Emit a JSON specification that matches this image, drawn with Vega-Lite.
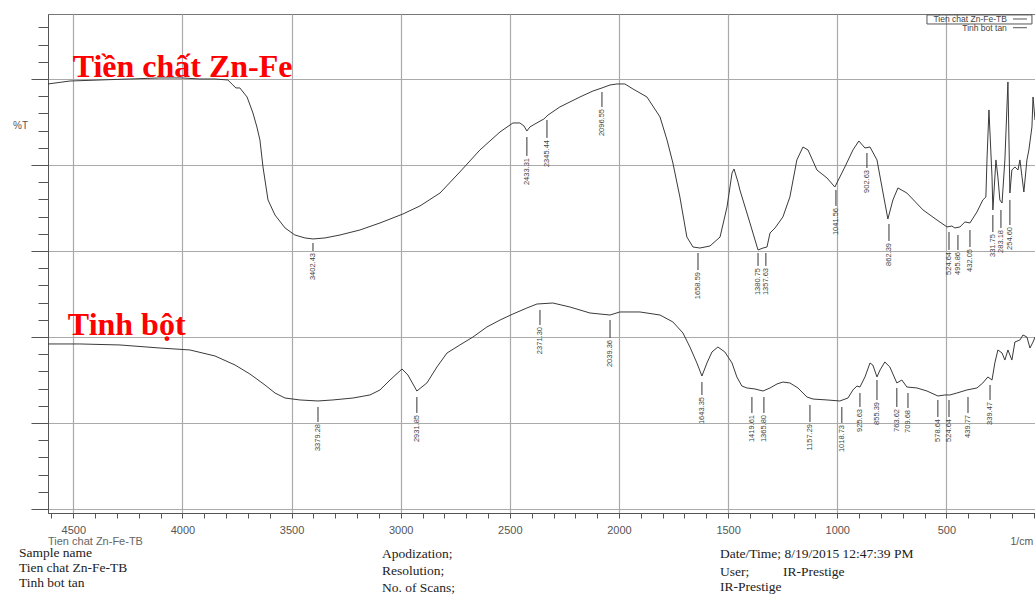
{
  "$schema": "https://vega.github.io/schema/vega-lite/v6.json",
  "width": 987,
  "height": 499,
  "autosize": {"type": "none"},
  "padding": {"left": 48, "top": 14, "right": 0, "bottom": 83},
  "background": "white",
  "config": {"view": {"stroke": "#777", "strokeWidth": 1}, "font": "Liberation Sans"},
  "datasets": {
    "spec": [
      {"s":"Zn","wn":4616,"t":49.41},{"s":"Zn","wn":4515,"t":49.76},{"s":"Zn","wn":4378,"t":49.88},{"s":"Zn","wn":4241,"t":50.0},{"s":"Zn","wn":4103,"t":50.12},{"s":"Zn","wn":4002,"t":50.12},{"s":"Zn","wn":3920,"t":50.0},{"s":"Zn","wn":3851,"t":50.0},{"s":"Zn","wn":3792,"t":49.88},{"s":"Zn","wn":3769,"t":49.29},{"s":"Zn","wn":3755,"t":48.94},{"s":"Zn","wn":3737,"t":48.94},{"s":"Zn","wn":3704,"t":47.87},{"s":"Zn","wn":3677,"t":45.98},{"s":"Zn","wn":3659,"t":44.33},{"s":"Zn","wn":3645,"t":42.79},{"s":"Zn","wn":3631,"t":39.6},{"s":"Zn","wn":3608,"t":35.7},{"s":"Zn","wn":3576,"t":33.92},{"s":"Zn","wn":3530,"t":32.39},{"s":"Zn","wn":3485,"t":31.56},{"s":"Zn","wn":3439,"t":31.21},{"s":"Zn","wn":3402,"t":31.09},{"s":"Zn","wn":3347,"t":31.21},{"s":"Zn","wn":3278,"t":31.56},{"s":"Zn","wn":3187,"t":32.15},{"s":"Zn","wn":3095,"t":32.98},{"s":"Zn","wn":2990,"t":34.04},{"s":"Zn","wn":2912,"t":34.99},{"s":"Zn","wn":2820,"t":36.52},{"s":"Zn","wn":2729,"t":39.01},{"s":"Zn","wn":2637,"t":41.61},{"s":"Zn","wn":2545,"t":43.74},{"s":"Zn","wn":2486,"t":44.8},{"s":"Zn","wn":2454,"t":44.8},{"s":"Zn","wn":2435,"t":44.44},{"s":"Zn","wn":2422,"t":43.85},{"s":"Zn","wn":2408,"t":44.33},{"s":"Zn","wn":2385,"t":44.68},{"s":"Zn","wn":2344,"t":45.27},{"s":"Zn","wn":2325,"t":45.74},{"s":"Zn","wn":2271,"t":46.69},{"s":"Zn","wn":2179,"t":47.87},{"s":"Zn","wn":2119,"t":48.58},{"s":"Zn","wn":2078,"t":48.94},{"s":"Zn","wn":2041,"t":49.29},{"s":"Zn","wn":2009,"t":49.41},{"s":"Zn","wn":1973,"t":49.41},{"s":"Zn","wn":1936,"t":48.82},{"s":"Zn","wn":1872,"t":47.87},{"s":"Zn","wn":1812,"t":45.51},{"s":"Zn","wn":1780,"t":42.79},{"s":"Zn","wn":1753,"t":40.07},{"s":"Zn","wn":1721,"t":36.05},{"s":"Zn","wn":1689,"t":31.32},{"s":"Zn","wn":1661,"t":30.14},{"s":"Zn","wn":1629,"t":30.02},{"s":"Zn","wn":1583,"t":30.26},{"s":"Zn","wn":1537,"t":31.32},{"s":"Zn","wn":1505,"t":34.87},{"s":"Zn","wn":1482,"t":38.89},{"s":"Zn","wn":1473,"t":39.36},{"s":"Zn","wn":1455,"t":37.83},{"s":"Zn","wn":1446,"t":36.88},{"s":"Zn","wn":1400,"t":32.98},{"s":"Zn","wn":1363,"t":29.79},{"s":"Zn","wn":1340,"t":30.02},{"s":"Zn","wn":1322,"t":30.14},{"s":"Zn","wn":1308,"t":31.8},{"s":"Zn","wn":1285,"t":32.39},{"s":"Zn","wn":1249,"t":33.69},{"s":"Zn","wn":1217,"t":36.05},{"s":"Zn","wn":1185,"t":40.43},{"s":"Zn","wn":1157,"t":41.96},{"s":"Zn","wn":1134,"t":41.61},{"s":"Zn","wn":1093,"t":39.24},{"s":"Zn","wn":1047,"t":38.3},{"s":"Zn","wn":1011,"t":37.23},{"s":"Zn","wn":965,"t":39.6},{"s":"Zn","wn":928,"t":41.61},{"s":"Zn","wn":901,"t":42.67},{"s":"Zn","wn":873,"t":41.84},{"s":"Zn","wn":850,"t":41.96},{"s":"Zn","wn":818,"t":40.43},{"s":"Zn","wn":791,"t":36.64},{"s":"Zn","wn":768,"t":33.45},{"s":"Zn","wn":745,"t":35.7},{"s":"Zn","wn":722,"t":37.12},{"s":"Zn","wn":681,"t":36.52},{"s":"Zn","wn":607,"t":34.52},{"s":"Zn","wn":543,"t":33.33},{"s":"Zn","wn":497,"t":32.51},{"s":"Zn","wn":475,"t":32.62},{"s":"Zn","wn":461,"t":32.39},{"s":"Zn","wn":438,"t":32.51},{"s":"Zn","wn":415,"t":33.1},{"s":"Zn","wn":392,"t":32.98},{"s":"Zn","wn":360,"t":34.28},{"s":"Zn","wn":333,"t":35.7},{"s":"Zn","wn":319,"t":36.05},{"s":"Zn","wn":314,"t":40.43},{"s":"Zn","wn":305,"t":46.34},{"s":"Zn","wn":291,"t":38.42},{"s":"Zn","wn":287,"t":34.52},{"s":"Zn","wn":273,"t":40.43},{"s":"Zn","wn":264,"t":38.42},{"s":"Zn","wn":255,"t":35.7},{"s":"Zn","wn":245,"t":35.34},{"s":"Zn","wn":232,"t":40.43},{"s":"Zn","wn":218,"t":49.65},{"s":"Zn","wn":209,"t":36.52},{"s":"Zn","wn":200,"t":39.24},{"s":"Zn","wn":186,"t":39.6},{"s":"Zn","wn":172,"t":39.24},{"s":"Zn","wn":163,"t":40.43},{"s":"Zn","wn":145,"t":36.64},{"s":"Zn","wn":131,"t":40.43},{"s":"Zn","wn":122,"t":41.61},{"s":"Zn","wn":108,"t":44.33},{"s":"Zn","wn":103,"t":47.87},{"s":"Zn","wn":94,"t":45.15},
      {"s":"TB","wn":4616,"t":18.68},{"s":"TB","wn":4470,"t":18.68},{"s":"TB","wn":4286,"t":18.56},{"s":"TB","wn":4103,"t":18.2},{"s":"TB","wn":3966,"t":17.97},{"s":"TB","wn":3851,"t":17.26},{"s":"TB","wn":3759,"t":16.19},{"s":"TB","wn":3691,"t":15.13},{"s":"TB","wn":3622,"t":13.83},{"s":"TB","wn":3576,"t":12.88},{"s":"TB","wn":3530,"t":12.29},{"s":"TB","wn":3462,"t":12.06},{"s":"TB","wn":3379,"t":11.94},{"s":"TB","wn":3311,"t":12.06},{"s":"TB","wn":3219,"t":12.29},{"s":"TB","wn":3141,"t":12.65},{"s":"TB","wn":3095,"t":13.24},{"s":"TB","wn":3049,"t":14.42},{"s":"TB","wn":2994,"t":15.72},{"s":"TB","wn":2967,"t":15.01},{"s":"TB","wn":2926,"t":13.12},{"s":"TB","wn":2880,"t":14.07},{"s":"TB","wn":2834,"t":15.96},{"s":"TB","wn":2788,"t":17.61},{"s":"TB","wn":2729,"t":18.56},{"s":"TB","wn":2669,"t":19.5},{"s":"TB","wn":2605,"t":20.69},{"s":"TB","wn":2545,"t":21.51},{"s":"TB","wn":2486,"t":22.22},{"s":"TB","wn":2422,"t":22.93},{"s":"TB","wn":2376,"t":23.4},{"s":"TB","wn":2303,"t":23.52},{"s":"TB","wn":2225,"t":23.05},{"s":"TB","wn":2133,"t":22.34},{"s":"TB","wn":2041,"t":22.1},{"s":"TB","wn":1996,"t":22.46},{"s":"TB","wn":1904,"t":22.46},{"s":"TB","wn":1812,"t":22.1},{"s":"TB","wn":1753,"t":21.28},{"s":"TB","wn":1707,"t":19.98},{"s":"TB","wn":1675,"t":18.32},{"s":"TB","wn":1643,"t":16.43},{"s":"TB","wn":1620,"t":14.89},{"s":"TB","wn":1597,"t":16.43},{"s":"TB","wn":1574,"t":17.73},{"s":"TB","wn":1547,"t":18.32},{"s":"TB","wn":1515,"t":17.73},{"s":"TB","wn":1482,"t":16.43},{"s":"TB","wn":1460,"t":14.78},{"s":"TB","wn":1437,"t":13.71},{"s":"TB","wn":1414,"t":13.48},{"s":"TB","wn":1377,"t":13.36},{"s":"TB","wn":1340,"t":13.12},{"s":"TB","wn":1308,"t":13.48},{"s":"TB","wn":1276,"t":13.95},{"s":"TB","wn":1249,"t":14.18},{"s":"TB","wn":1217,"t":14.07},{"s":"TB","wn":1180,"t":13.48},{"s":"TB","wn":1139,"t":12.41},{"s":"TB","wn":1111,"t":12.17},{"s":"TB","wn":1047,"t":12.06},{"s":"TB","wn":988,"t":11.94},{"s":"TB","wn":951,"t":12.29},{"s":"TB","wn":928,"t":13.24},{"s":"TB","wn":910,"t":13.71},{"s":"TB","wn":896,"t":13.59},{"s":"TB","wn":873,"t":14.78},{"s":"TB","wn":850,"t":16.43},{"s":"TB","wn":837,"t":16.19},{"s":"TB","wn":818,"t":14.78},{"s":"TB","wn":804,"t":15.6},{"s":"TB","wn":782,"t":16.55},{"s":"TB","wn":759,"t":15.96},{"s":"TB","wn":727,"t":14.07},{"s":"TB","wn":704,"t":14.42},{"s":"TB","wn":681,"t":13.59},{"s":"TB","wn":635,"t":13.48},{"s":"TB","wn":589,"t":13.12},{"s":"TB","wn":539,"t":12.53},{"s":"TB","wn":507,"t":12.65},{"s":"TB","wn":484,"t":12.65},{"s":"TB","wn":452,"t":12.88},{"s":"TB","wn":406,"t":13.24},{"s":"TB","wn":360,"t":13.48},{"s":"TB","wn":333,"t":14.07},{"s":"TB","wn":310,"t":14.78},{"s":"TB","wn":291,"t":14.42},{"s":"TB","wn":278,"t":16.43},{"s":"TB","wn":264,"t":17.97},{"s":"TB","wn":245,"t":17.61},{"s":"TB","wn":232,"t":16.78},{"s":"TB","wn":218,"t":17.97},{"s":"TB","wn":200,"t":16.78},{"s":"TB","wn":186,"t":18.91},{"s":"TB","wn":163,"t":19.15},{"s":"TB","wn":149,"t":19.74},{"s":"TB","wn":131,"t":19.5},{"s":"TB","wn":117,"t":18.2},{"s":"TB","wn":103,"t":18.91},{"s":"TB","wn":94,"t":19.5}
    ],
    "peaks": [
      {"wn":3402,"t":30.61,"t2":29.67,"label":"3402.43"},
      {"wn":2422,"t":43.14,"t2":40.9,"label":"2433.31"},
      {"wn":2330,"t":45.15,"t2":43.03,"label":"2345.44"},
      {"wn":2078,"t":48.46,"t2":46.69,"label":"2096.55"},
      {"wn":1638,"t":29.43,"t2":27.42,"label":"1658.59"},
      {"wn":1363,"t":29.43,"t2":27.9,"label":"1380.75"},
      {"wn":1327,"t":29.43,"t2":27.9,"label":"1357.63"},
      {"wn":1006,"t":36.88,"t2":34.99,"label":"1041.56"},
      {"wn":864,"t":41.25,"t2":39.48,"label":"902.63"},
      {"wn":763,"t":32.86,"t2":30.85,"label":"862.39"},
      {"wn":488,"t":31.91,"t2":29.79,"label":"524.64"},
      {"wn":447,"t":31.56,"t2":29.79,"label":"495.86"},
      {"wn":392,"t":32.15,"t2":30.14,"label":"432.05"},
      {"wn":287,"t":33.92,"t2":31.91,"label":"331.75"},
      {"wn":250,"t":34.52,"t2":32.39,"label":"283.18"},
      {"wn":209,"t":35.7,"t2":32.74,"label":"254.60"},
      {"wn":3379,"t":11.23,"t2":9.46,"label":"3379.28"},
      {"wn":2926,"t":12.41,"t2":10.52,"label":"2931.85"},
      {"wn":2362,"t":22.7,"t2":20.92,"label":"2371.30"},
      {"wn":2041,"t":21.51,"t2":19.39,"label":"2039.36"},
      {"wn":1620,"t":14.18,"t2":12.65,"label":"1643.35"},
      {"wn":1391,"t":12.41,"t2":10.52,"label":"1419.61"},
      {"wn":1336,"t":12.41,"t2":10.52,"label":"1365.80"},
      {"wn":1125,"t":11.47,"t2":9.46,"label":"1157.29"},
      {"wn":979,"t":11.23,"t2":9.34,"label":"1018.73"},
      {"wn":896,"t":12.88,"t2":11.23,"label":"925.63"},
      {"wn":818,"t":14.42,"t2":12.06,"label":"855.39"},
      {"wn":727,"t":13.48,"t2":11.23,"label":"763.62"},
      {"wn":676,"t":12.88,"t2":11.11,"label":"709.68"},
      {"wn":539,"t":12.06,"t2":10.05,"label":"578.64"},
      {"wn":488,"t":12.06,"t2":10.05,"label":"524.64"},
      {"wn":401,"t":12.41,"t2":10.52,"label":"439.77"},
      {"wn":300,"t":13.83,"t2":12.06,"label":"339.47"}
    ],
    "red": [
      {"wn":4503,"t":50.24,"label":"Tiền chất Zn-Fe"},
      {"wn":4525,"t":19.74,"label":"Tinh bột"}
    ],
    "footer": [
      {"wn":4749,"t":-6.03,"label":"Sample name"},
      {"wn":4749,"t":-7.8,"label":"Tien chat Zn-Fe-TB"},
      {"wn":4749,"t":-9.57,"label":"Tinh bot tan"},
      {"wn":3086,"t":-6.15,"label":"Apodization;"},
      {"wn":3086,"t":-8.16,"label":"Resolution;"},
      {"wn":3086,"t":-10.17,"label":"No. of Scans;"},
      {"wn":1537,"t":-6.15,"label":"Date/Time; 8/19/2015 12:47:39 PM"},
      {"wn":1537,"t":-8.27,"label":"User;"},
      {"wn":1249,"t":-8.27,"label":"IR-Prestige"},
      {"wn":1537,"t":-10.05,"label":"IR-Prestige"}
    ],
    "footsans": [
      {"wn":4616,"t":-4.73,"label":"Tien chat Zn-Fe-TB"}
    ],
    "legtext": [
      {"wn":223,"t":57.09,"label":"Tien chat Zn-Fe-TB"},
      {"wn":223,"t":56.06,"label":"Tinh bot tan"}
    ],
    "legline": [
      {"wn":195,"wn2":131,"t":57.09},
      {"wn":195,"wn2":131,"t":56.06}
    ],
    "legbox": [
      {"wn":589,"wn2":108,"t":57.57,"t2":56.5}
    ]
  },
  "encoding": {
    "x": {
      "field": "wn", "type": "quantitative",
      "scale": {"domain": [4616, 94], "nice": false, "zero": false},
      "axis": {
        "title": "1/cm", "titleX": 962, "titleY": 28, "titleAlign": "left", "titleBaseline": "middle",
        "titleFontWeight": "normal", "titleFontSize": 10.5, "titleColor": "#555", "titleFont": "Liberation Sans",
        "values": [4600,4500,4400,4300,4200,4100,4000,3900,3800,3700,3600,3500,3400,3300,3200,3100,3000,2900,2800,2700,2600,2500,2400,2300,2200,2100,2000,1900,1800,1700,1600,1500,1400,1300,1200,1100,1000,900,800,700,600,500,400,300,200,100],
        "labelExpr": "datum.value % 500 === 0 ? format(datum.value, 'd') : ''",
        "labelOverlap": false, "labelFlush": false,
        "labelFontSize": 11, "labelColor": "#555", "labelPadding": 6, "labelFont": "Liberation Sans",
        "tickSize": 5, "tickColor": "#555", "domainColor": "#555",
        "grid": true, "gridColor": "#aaa", "gridWidth": 1.2,
        "gridOpacity": {"condition": {"test": "datum.value % 500 === 0", "value": 1}, "value": 0}
      }
    },
    "y": {
      "field": "t", "type": "quantitative",
      "scale": {"domain": [-1.3, 57.68], "nice": false, "zero": false},
      "axis": {
        "title": "%T", "titleAngle": 0, "titleX": -28, "titleY": 111, "titleAlign": "center", "titleBaseline": "middle",
        "titleFontWeight": "normal", "titleFontSize": 10, "titleColor": "#555", "titleFont": "Liberation Sans",
        "values": [-0.83,1.2,3.24,5.27,7.3,9.34,11.37,13.4,15.44,17.47,19.5,21.54,23.57,25.6,27.64,29.67,31.7,33.74,35.77,37.8,39.83,41.87,43.9,45.94,47.97,50,52.03,54.07,56.1],
        "labels": false,
        "tickSize": {"condition": {"test": "indexof([-0.83,9.34,19.5,29.67,39.83,50], datum.value) >= 0", "value": 17}, "value": 10},
        "tickColor": "#555", "domainColor": "#555",
        "grid": true, "gridColor": "#aaa", "gridWidth": 1.2,
        "gridOpacity": {"condition": {"test": "indexof([-0.83,9.34,19.5,29.67,39.83,50], datum.value) >= 0", "value": 1}, "value": 0}
      }
    }
  },
  "layer": [
    {
      "data": {"name": "spec"},
      "mark": {"type": "line", "color": "#3a3a3a", "strokeWidth": 1, "clip": true},
      "encoding": {"detail": {"field": "s"}}
    },
    {
      "data": {"name": "peaks"},
      "mark": {"type": "rule", "color": "#333", "strokeWidth": 1},
      "encoding": {"y2": {"field": "t2"}}
    },
    {
      "data": {"name": "peaks"},
      "mark": {"type": "text", "angle": 270, "align": "right", "baseline": "middle", "fontSize": 7.5, "color": "#444", "font": "Liberation Sans", "yOffset": 2},
      "encoding": {"y": {"field": "t2", "type": "quantitative"}, "text": {"field": "label"}}
    },
    {
      "data": {"name": "red"},
      "mark": {"type": "text", "align": "left", "baseline": "alphabetic", "fontSize": 32, "fontWeight": "bold", "font": "Liberation Serif", "color": "#ff0000"},
      "encoding": {"text": {"field": "label"}}
    },
    {
      "data": {"name": "footer"},
      "mark": {"type": "text", "align": "left", "baseline": "middle", "fontSize": 13.5, "font": "Liberation Serif", "color": "#222"},
      "encoding": {"text": {"field": "label"}}
    },
    {
      "data": {"name": "footsans"},
      "mark": {"type": "text", "align": "left", "baseline": "middle", "fontSize": 11, "font": "Liberation Sans", "color": "#666"},
      "encoding": {"text": {"field": "label"}}
    },
    {
      "data": {"name": "legbox"},
      "mark": {"type": "rect", "fillOpacity": 0, "stroke": "#555", "strokeWidth": 1},
      "encoding": {"x2": {"field": "wn2"}, "y2": {"field": "t2"}}
    },
    {
      "data": {"name": "legtext"},
      "mark": {"type": "text", "align": "right", "baseline": "middle", "fontSize": 8.5, "font": "Liberation Sans", "color": "#444"},
      "encoding": {"text": {"field": "label"}}
    },
    {
      "data": {"name": "legline"},
      "mark": {"type": "rule", "color": "#555", "strokeWidth": 1},
      "encoding": {"x2": {"field": "wn2"}}
    }
  ]
}
